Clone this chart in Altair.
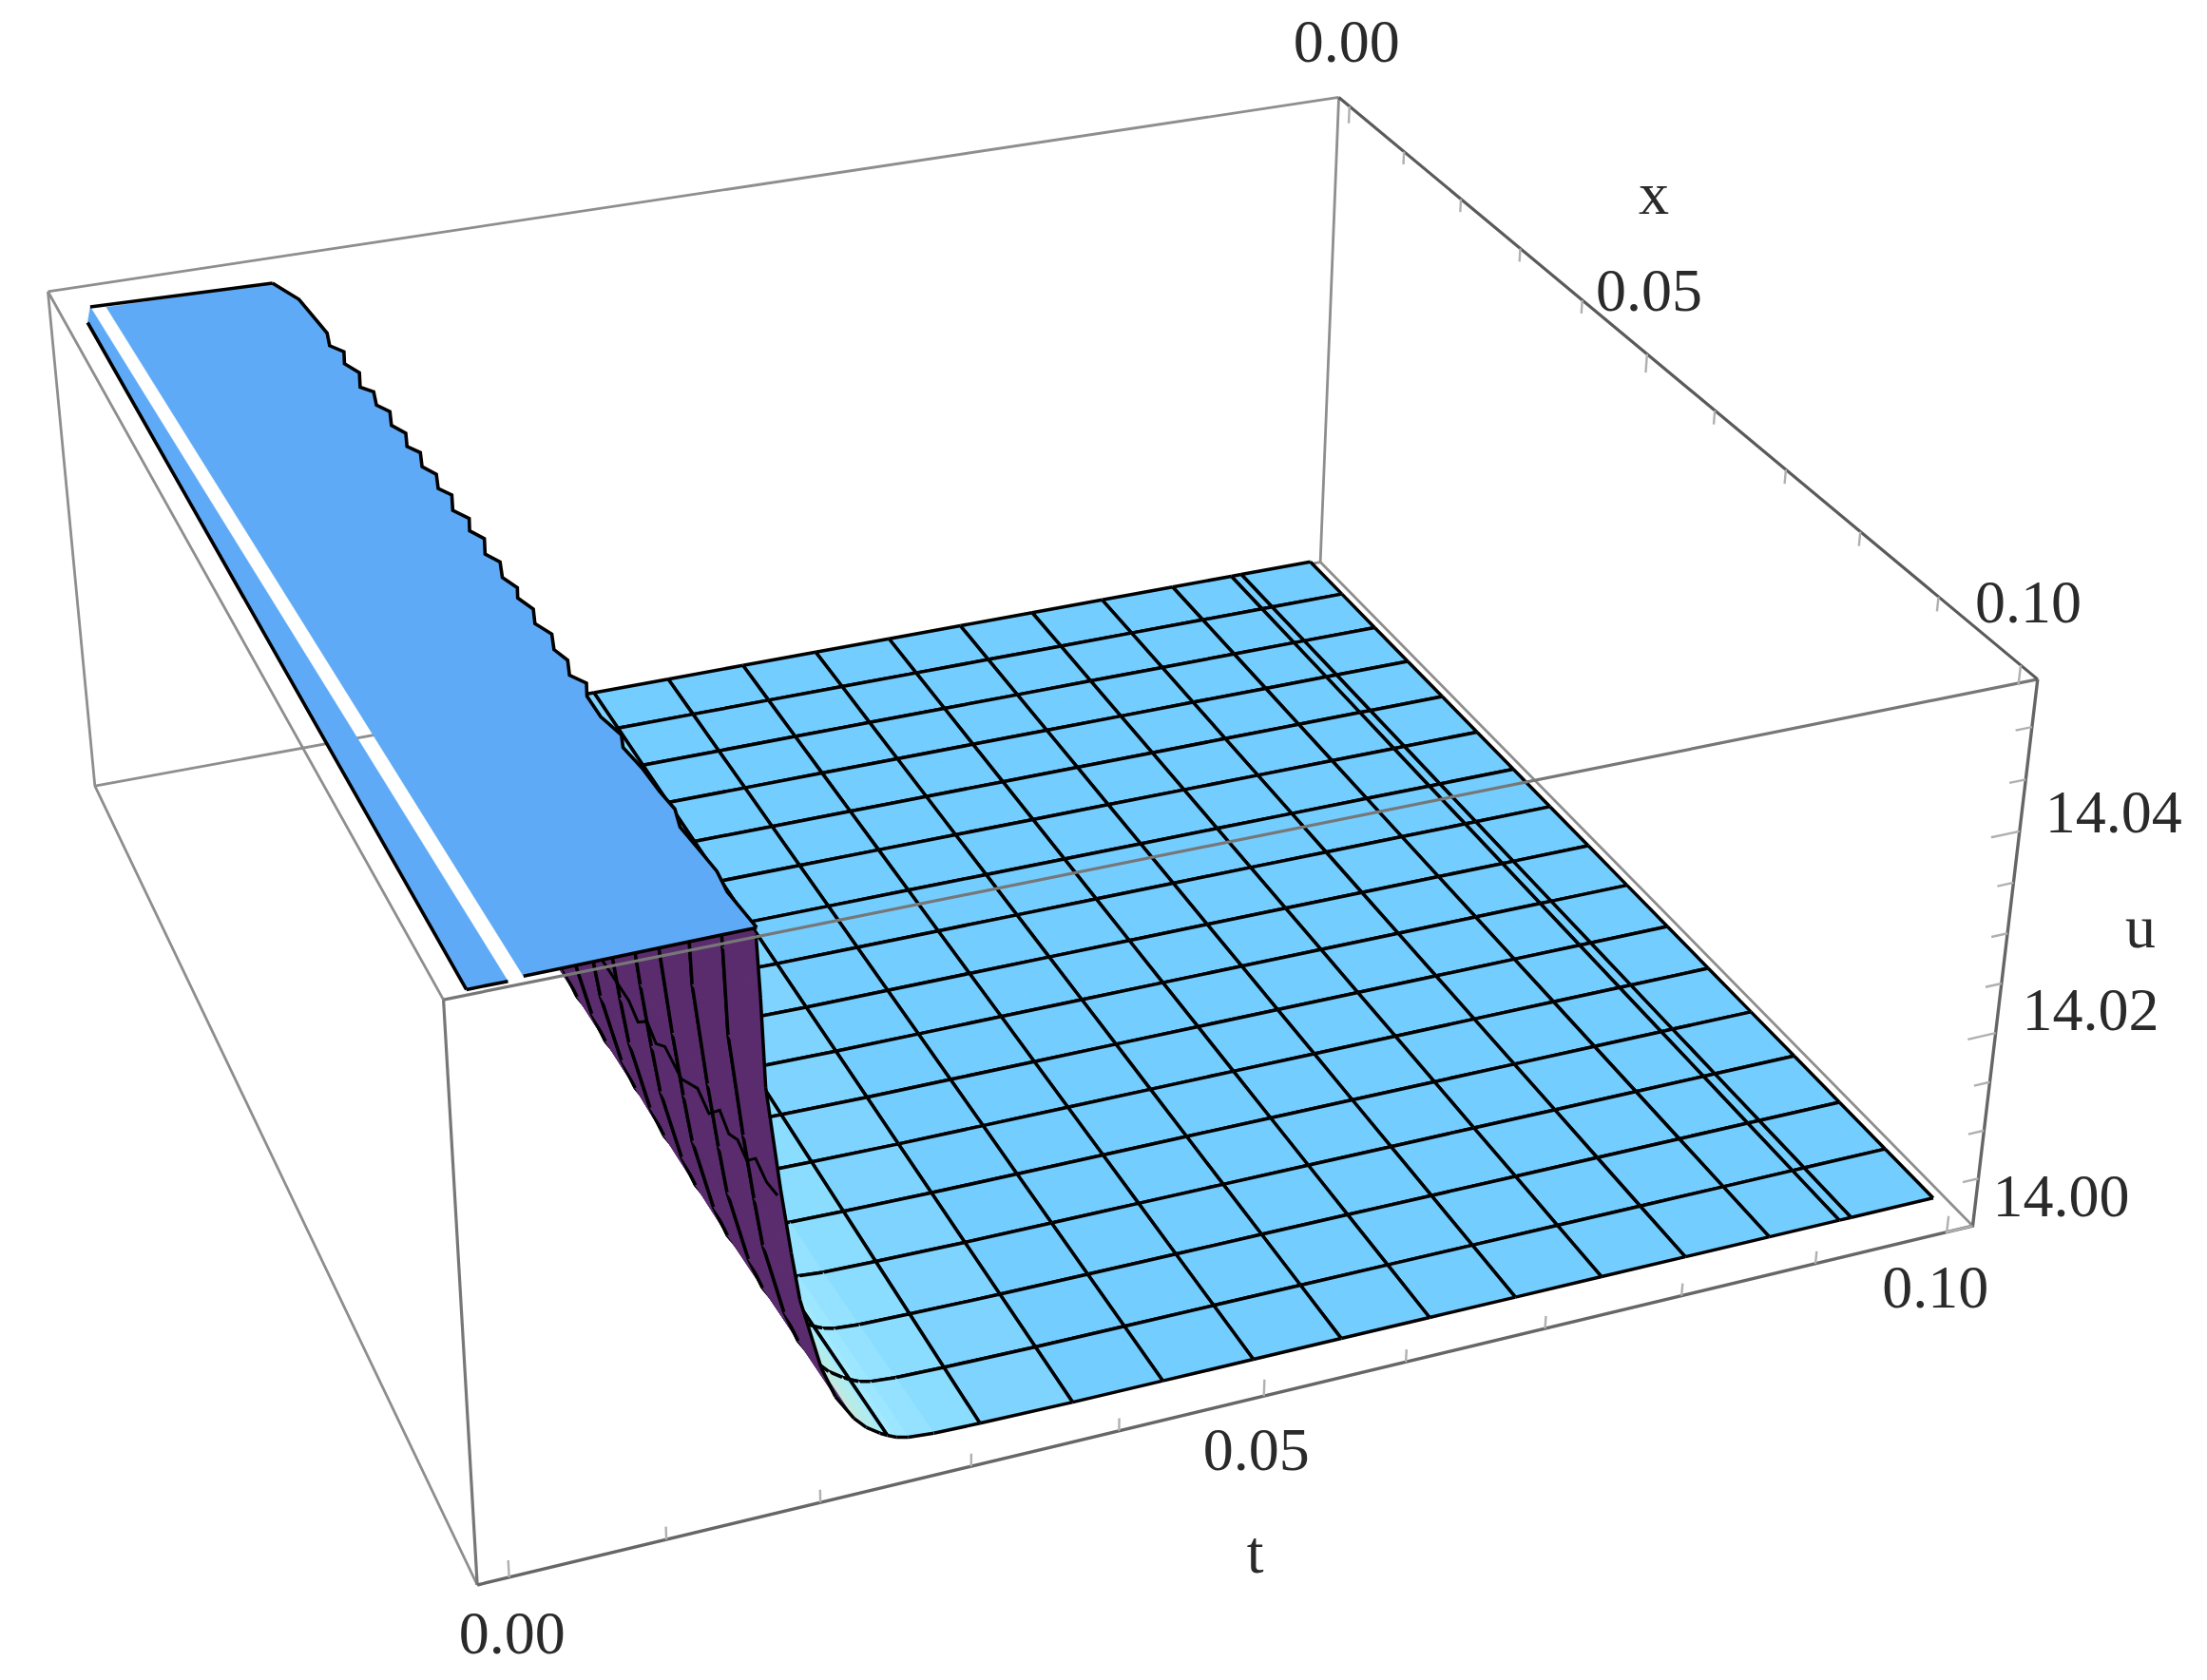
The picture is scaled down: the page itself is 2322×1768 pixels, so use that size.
import numpy as np
import altair as alt

# axis ranges of the 3D box
T_RANGE = (-0.002, 0.102)
X_RANGE = (-0.002, 0.102)
U_RANGE = (14.0, 14.0545)
# camera of the picture (box coordinates scaled to 0..1)
CAMERA = [[1408.414097, 292.852802, -52.057019, 99.851125],
          [-184.889823, 477.285586, -536.329142, 827.164931],
          [0.085755, -0.21796, -0.051934, 1.0]]

# surface u(t) read along the front edge, and the mesh
t_profile = [0.0175, 0.0177, 0.0179, 0.0187, 0.0193, 0.0198, 0.0211, 0.0220, 0.0232, 0.0240, 0.0249, 0.0254, 0.0260, 0.0268, 0.0285,
             0.0316, 0.0379, 0.0441, 0.0504, 0.0566, 0.0629, 0.0691, 0.0754, 0.0816, 0.0879, 0.0932, 0.0941, 0.1004]
u_profile = [14.0525, 14.0467, 14.0385, 14.0288, 14.0225, 14.0178, 14.0107, 14.0075, 14.0049, 14.0037, 14.0028, 14.0024, 14.0020, 14.0017, 14.0015,
             14.0014, 14.0013, 14.0013, 14.0013, 14.0013, 14.0013, 14.0013, 14.0013, 14.0013, 14.0013, 14.0013, 14.0013, 14.0013]
cell_colors = ['#5a2c6e'] * 8 + ['#c3e8de', '#b4ecec', '#a6ecff', '#a2e9ff', '#9de6ff', '#94e2ff', '#8addff', '#7fd4ff'] + ['#74cdff'] * 11
t_mesh = [0.0254, 0.0316, 0.0379, 0.0441, 0.0504, 0.0566, 0.0629, 0.0691, 0.0754, 0.0816, 0.0879, 0.0932, 0.0941, 0.1004]
x_grid = [-0.0006, 0.0056, 0.0119, 0.0181, 0.0244, 0.0306, 0.0369, 0.0431, 0.0494,
          0.0556, 0.0619, 0.0681, 0.0744, 0.0806, 0.0869, 0.0931, 0.0994]
# the wall leans: how far its t lies before the front-edge profile, for each x of x_grid
wall_lean = [-0.0035, -0.0021, -0.0020, -0.0019, -0.0016, -0.0015, -0.0013, -0.0011, -0.0010,
             -0.0009, -0.0008, -0.0008, -0.0007, -0.0006, -0.0004, -0.0002, 0.0]
LEAN_UNTIL = 0.0285

# the raised shelf, height and outline (t, x)
U_SHELF = 14.05
shelf_edge_t = [154, 165, 169, 165, 172, 167, 173, 167, 174, 170, 176, 171, 177, 172, 178, 173, 179, 174, 180, 174, 181, 176, 182, 176,
                182, 177, 182, 178, 183, 178, 184, 179, 183, 178, 185, 180, 180, 185, 181, 184, 185, 187, 183, 185, 187, 185, 188]
shelf_edge_x = [-51, -15, 51, 73, 87, 107, 126, 150, 161, 183, 197, 219, 235, 256, 269, 291, 306, 328, 341, 364, 380, 398, 413, 435,
                450, 472, 490, 504, 523, 543, 561, 582, 599, 619, 633, 650, 679, 706, 722, 751, 783, 807, 829, 857, 887, 912, 957]
gap_right_t = [28, 44]
gap_right_x = [-53, 959]
gap_left_t = [17, 34]
gap_left_x = [-58, 961]
shelf_left_t = 9
shelf_left_x = [-31, 961]
# jagged mesh line on the back of the wall (x, u)
wall_line_t = 0.0188
wall_line_x = [0.0610, 0.0691, 0.0710, 0.0730, 0.0748, 0.0767, 0.0800, 0.0833, 0.0855, 0.0877, 0.0894, 0.0911, 0.0928, 0.0945, 0.0965, 0.0985]
wall_line_u = [14.0225, 14.0229, 14.0222, 14.0238, 14.0230, 14.0242, 14.0236, 14.0253, 14.0246, 14.0267, 14.0258, 14.0266, 14.0260, 14.0276, 14.0270, 14.0274]

# axes
t_ticks = [0.0, 0.01, 0.02, 0.03, 0.04, 0.05, 0.06, 0.07, 0.08, 0.09, 0.10]
x_ticks = [0.0, 0.01, 0.02, 0.03, 0.04, 0.05, 0.06, 0.07, 0.08, 0.09, 0.10]
u_ticks = [14.0, 14.005, 14.01, 14.015, 14.02, 14.025, 14.03, 14.035, 14.04, 14.045, 14.05]
u_major = [14.0, 14.02, 14.04]
t_labels = ['0.00', '0.05', '0.10']
t_label_at = [0.0, 0.05, 0.10]
t_label_off = [(3, 61), (-8, 59), (-12, 60)]
x_labels = ['0.00', '0.05', '0.10']
x_label_at = [0.0, 0.05, 0.10]
x_label_off = [(-3, -66), (2, -65), (8, -64)]
u_labels = ['14.00', '14.02', '14.04']
u_label_off = [(93, -29), (100, -22), (99, -18)]

C = np.array(CAMERA)
def proj(t, x, u):
    v = C @ np.array([(t - T_RANGE[0]) / (T_RANGE[1] - T_RANGE[0]),
                      (x - X_RANGE[0]) / (X_RANGE[1] - X_RANGE[0]),
                      (u - U_RANGE[0]) / (U_RANGE[1] - U_RANGE[0]), 1.0])
    return [round(float(v[0] / v[2] - 8), 2), round(float(v[1] / v[2] - 8), 2)]

feats = []
def poly(pts, fill, sw=1.0):
    ring = [proj(*p) for p in pts]
    ring.append(ring[0])
    feats.append({"type": "Feature", "properties": {"f": fill, "s": fill, "w": sw},
                  "geometry": {"type": "Polygon", "coordinates": [ring]}})
def lines(paths, color, w):
    feats.append({"type": "Feature", "properties": {"f": "transparent", "s": color, "w": w},
                  "geometry": {"type": "MultiLineString", "coordinates": [[proj(*p) for p in path] for path in paths]}})

t0, t1 = T_RANGE; x0, x1 = X_RANGE; u0, u1 = U_RANGE
BACK = '#8e8e8e'
# back box edges
lines([[(t0, x0, u1), (t0, x0, u0), (t0, x1, u0)], [(t0, x0, u0), (t1, x0, u0), (t1, x0, u1)],
       [(t1, x0, u0), (t1, x1, u0)], [(t0, x0, u1), (t0, x1, u1)], [(t0, x0, u1), (t1, x0, u1)]], BACK, 2.8)

def tpos(i, j):
    t = t_profile[i]
    return t + wall_lean[j] if t <= LEAN_UNTIL else t

# surface, far strips first, far cells first
for j in range(len(x_grid) - 1):
    xa, xb = x_grid[j], x_grid[j + 1]
    for i in range(len(t_profile) - 2, -1, -1):
        ua, ub = u_profile[i], u_profile[i + 1]
        aa, ab = (tpos(i, j), xa, ua), (tpos(i + 1, j), xa, ub)
        ba, bb = (tpos(i, j + 1), xb, ua), (tpos(i + 1, j + 1), xb, ub)
        poly([aa, ab, bb, ba], cell_colors[i])
        paths = [[aa, ab], [ba, bb]]
        if t_profile[i] in t_mesh:
            paths.append([aa, ba])
        if t_profile[i + 1] in t_mesh:
            paths.append([ab, bb])
        lines(paths, '#000000', 3.5)

lines([[(wall_line_t, a, b) for a, b in zip(wall_line_x, wall_line_u)]], '#000000', 3.0)

# shelf
edge = [(a * 1e-4, b * 1e-4, U_SHELF) for a, b in zip(shelf_edge_t, shelf_edge_x)]
right = [(a * 1e-4, b * 1e-4, U_SHELF) for a, b in zip(gap_right_t, gap_right_x)]
left = [(a * 1e-4, b * 1e-4, U_SHELF) for a, b in zip(gap_left_t, gap_left_x)]
SHELF = '#5faaf6'
poly(edge + right[::-1], SHELF, 0.5)
strip_l = [(shelf_left_t * 1e-4, shelf_left_x[0] * 1e-4, U_SHELF), (shelf_left_t * 1e-4, shelf_left_x[1] * 1e-4, U_SHELF)]
poly(strip_l + left[::-1], SHELF, 0.5)
lines([edge], '#000000', 3.6)
lines([[left[0], edge[0]]], '#000000', 3.6)
lines([strip_l, [strip_l[1], left[-1]], [right[-1], edge[-1]]], '#000000', 3.6)

# front box edges and ticks
FRONT = '#777777'
lines([[(t0, x1, u0), (t0, x1, u1)], [(t0, x1, u1), (t1, x1, u1)]], FRONT, 3.2)
lines([[(t1, x1, u1), (t1, x1, u0), (t0, x1, u0)]], '#666666', 3.4)
lines([[(t1, x0, u1), (t1, x1, u1)]], '#5a5a5a', 3.2)
TICK = '#b0b0b0'
lines([[(t, x1, u0), (t, x1, u0 + (0.0017 if t in t_label_at else 0.0013))] for t in t_ticks], TICK, 2.4)
lines([[(t1, x, u1), (t1, x, u1 - (0.0019 if x in x_label_at else 0.0014))] for x in x_ticks], TICK, 2.4)
lines([[(t1, x1, u), (t1 - (0.0021 if u in u_major else 0.0012), x1, u)] for u in u_ticks], TICK, 2.4)

# texts
txt = []
for s, t, (dx, dy) in zip(t_labels, t_label_at, t_label_off):
    p = proj(t, x1, u0); txt.append({"s": s, "lon": p[0] + dx, "lat": p[1] + dy})
for s, x, (dx, dy) in zip(x_labels, x_label_at, x_label_off):
    p = proj(t1, x, u1); txt.append({"s": s, "lon": p[0] + dx, "lat": p[1] + dy})
for s, (dx, dy) in zip(u_labels, u_label_off):
    p = proj(t1, x1, float(s)); txt.append({"s": s, "lon": p[0] + dx, "lat": p[1] + dy})
p = proj(0.05, x1, u0); txt.append({"s": "t", "lon": p[0] - 9, "lat": p[1] + 167})
p = proj(t1, 0.05, u1); txt.append({"s": "x", "lon": p[0] + 7, "lat": p[1] - 167})
p = proj(t1, x1, 14.03); txt.append({"s": "u", "lon": p[0] + 140, "lat": p[1] - 4})

shapes = alt.Chart(alt.Data(values=feats)).mark_geoshape().encode(
    fill=alt.Fill('properties.f:N', scale=None),
    stroke=alt.Stroke('properties.s:N', scale=None),
    strokeWidth=alt.StrokeWidth('properties.w:Q', scale=None))
labels = alt.Chart(alt.Data(values=txt)).mark_text(font='Liberation Serif', fontSize=64, color='#2a2a2a',
                                                   align='center', baseline='middle').encode(
    longitude='lon:Q', latitude='lat:Q', text='s:N')
chart = alt.layer(shapes, labels).project(type='identity', scale=1, translate=[0, 0]).properties(
    width=2300, height=1745, padding=0).configure_view(strokeWidth=0)
chart.save("out.html", embed_options={"renderer": "svg", "actions": False})
